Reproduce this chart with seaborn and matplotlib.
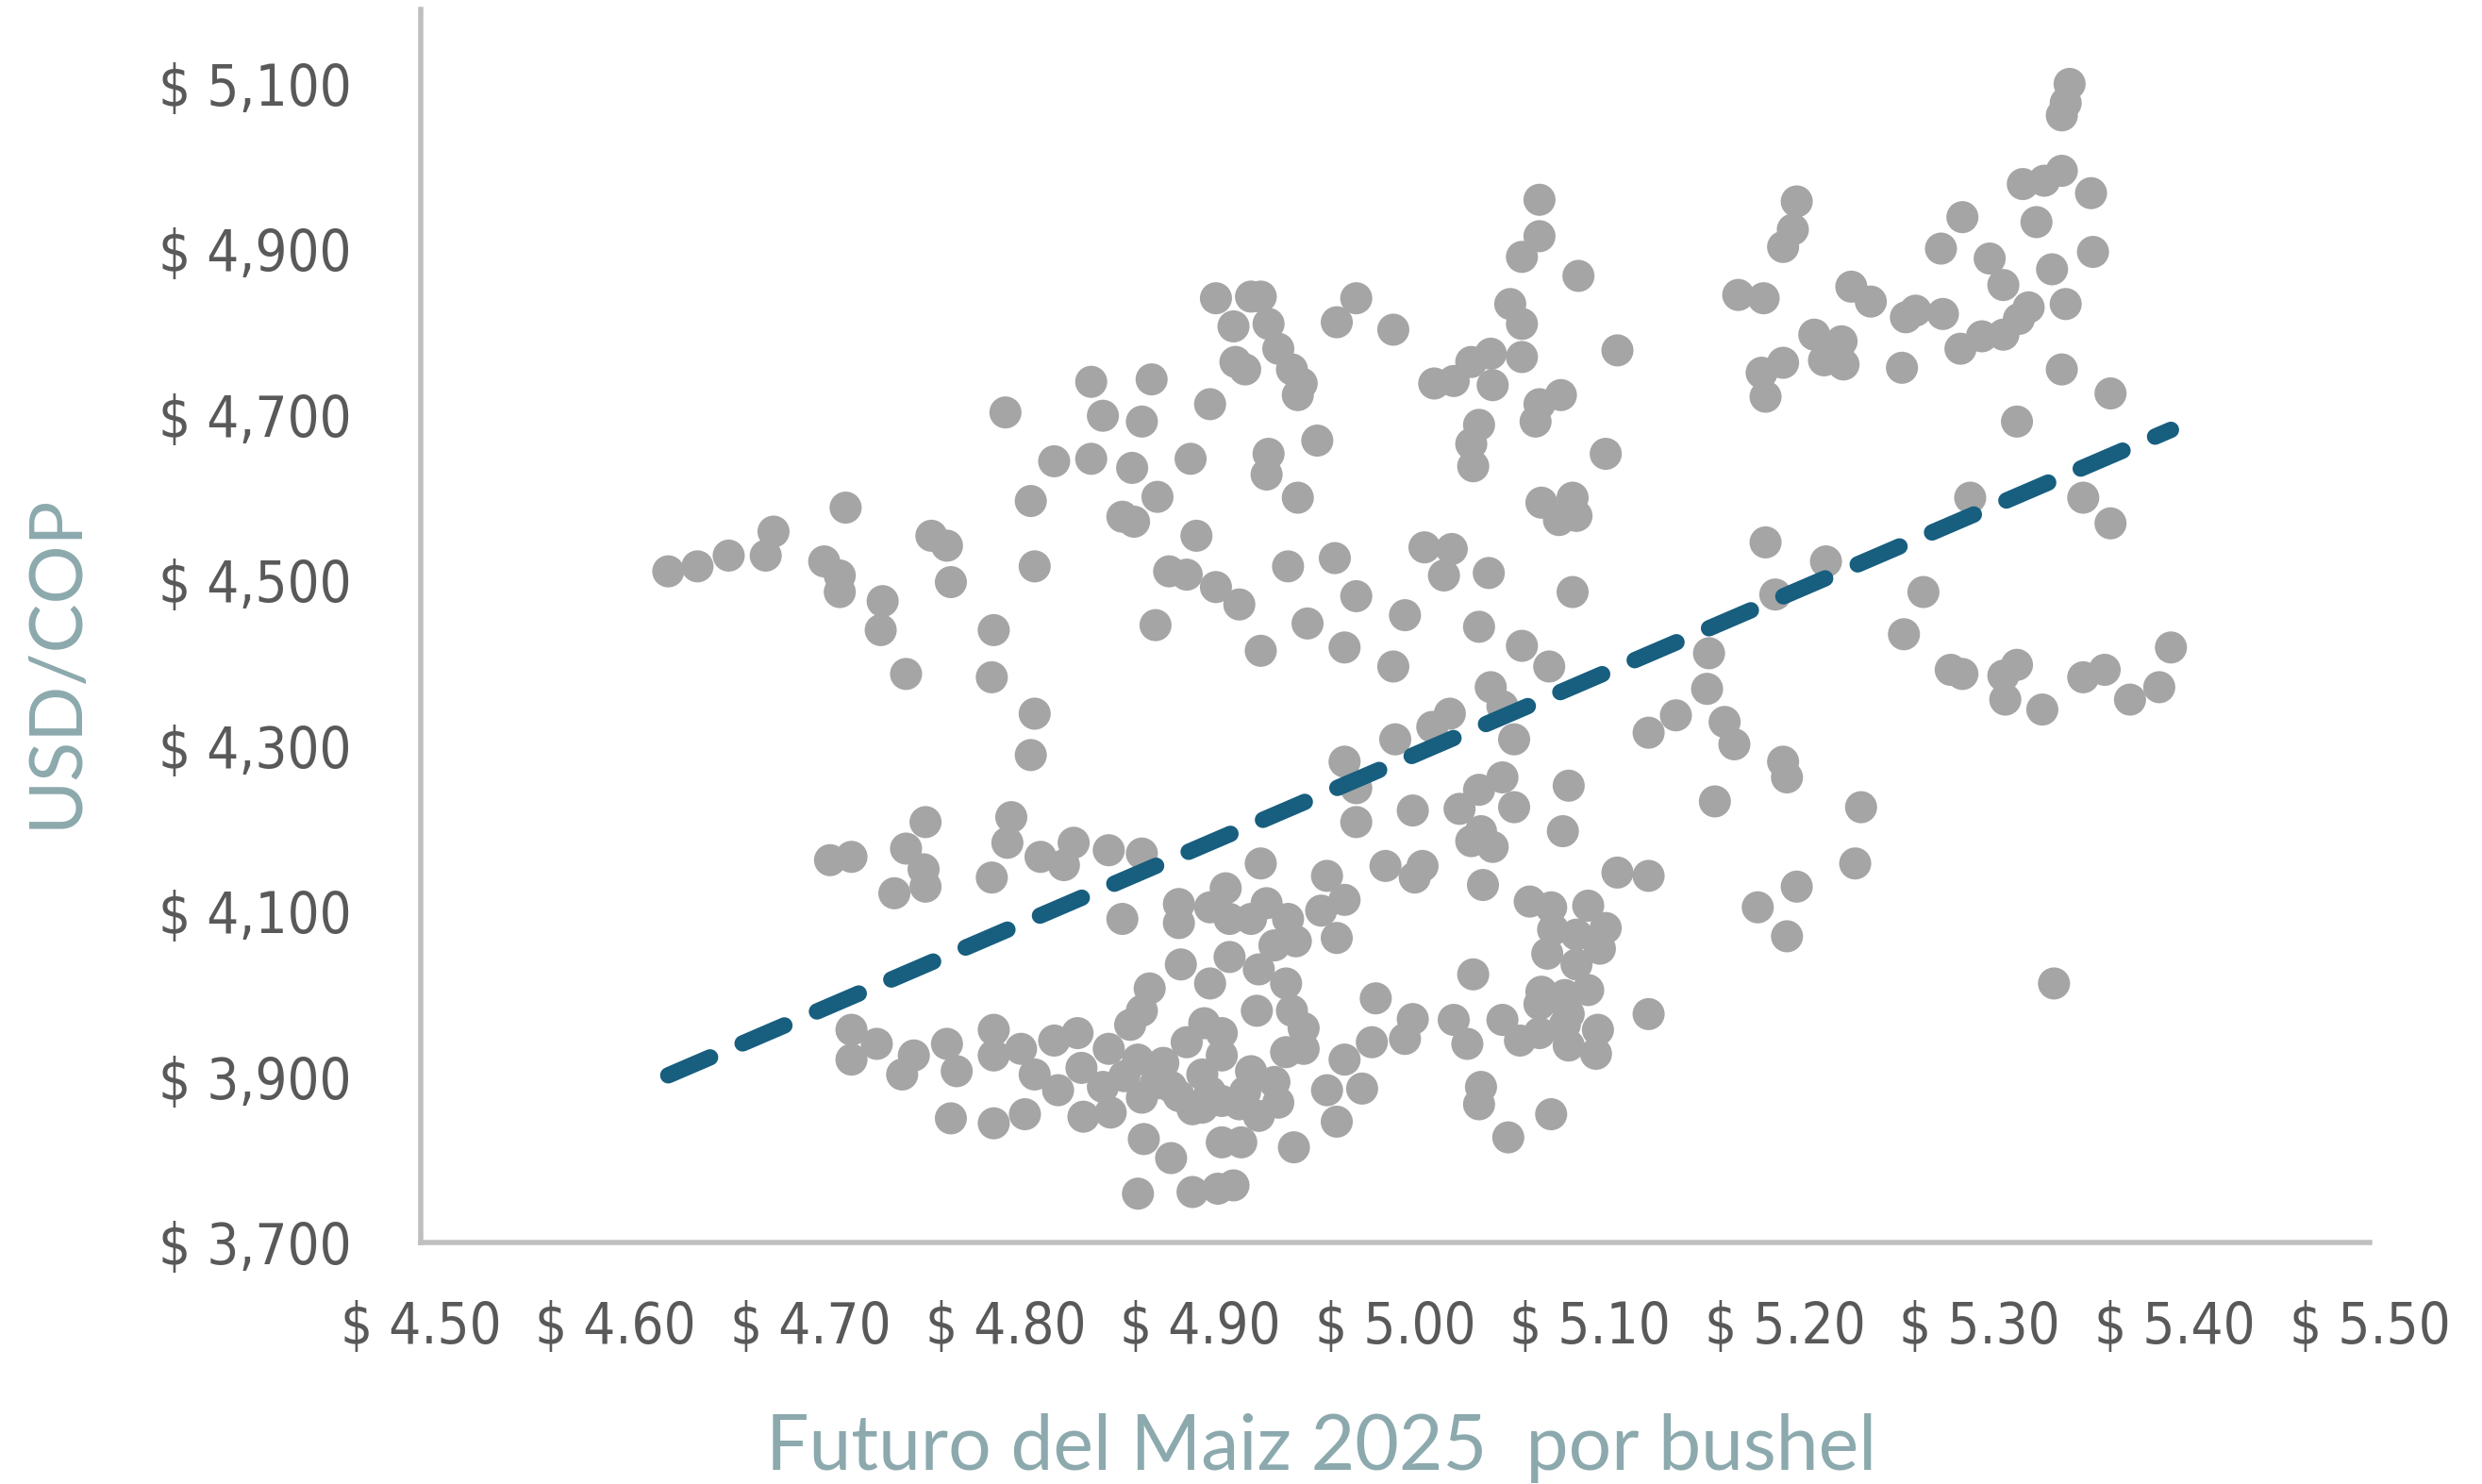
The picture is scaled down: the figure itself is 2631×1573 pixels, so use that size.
import os
import matplotlib
matplotlib.use("Agg")
import matplotlib.pyplot as plt
import matplotlib.ticker as mticker
from matplotlib import font_manager as fm
import seaborn as sns
import pandas as pd

# Corn future price (USD per bushel) vs USD/COP
corn_price = [
    4.627, 4.642, 4.658, 4.677, 4.681, 4.718, 4.707, 4.715, 4.715, 4.737,
    4.736, 4.762, 4.770, 4.772, 4.800, 4.813, 4.815, 4.794, 4.825, 4.844,
    4.850, 4.844, 4.865, 4.870, 4.875, 4.878, 4.866, 4.860, 4.898, 4.884,
    4.893, 4.908, 4.877, 4.905, 4.895, 4.908, 4.917, 4.918, 5.074, 5.074,
    5.065, 5.094, 5.206, 5.204, 5.199, 5.176, 5.189, 5.215, 5.220, 5.199,
    5.188, 5.190, 4.926, 4.931, 4.935, 4.940, 4.923, 4.947, 4.952, 4.950,
    4.970, 4.980, 4.999, 5.020, 5.030, 5.039, 5.049, 5.050, 5.059, 5.065,
    5.065, 5.114, 5.085, 5.074, 5.072, 5.043, 5.039, 5.040, 5.108, 4.935,
    4.934, 4.960, 4.950, 5.075, 5.091, 5.093, 5.084, 5.015, 5.029, 5.025,
    5.048, 4.945, 4.969, 4.980, 5.005, 4.955, 5.043, 5.091, 5.190, 5.195,
    4.920, 5.221, 5.346, 5.344, 5.342, 5.322, 5.333, 5.342, 5.357, 5.291,
    5.329, 5.280, 5.305, 5.312, 5.337, 5.358, 5.234, 5.244, 5.262, 5.267,
    5.281, 5.325, 5.320, 5.344, 5.229, 5.230, 5.260, 5.290, 5.301, 5.312,
    5.342, 5.367, 5.319, 5.295, 5.353, 5.367, 5.271, 5.261, 5.285, 5.291,
    5.319, 5.312, 5.313, 5.332, 5.353, 5.364, 5.377, 5.392, 5.398, 5.239,
    5.236, 5.338, 4.931, 4.974, 4.999, 5.065, 5.079, 5.049, 5.055, 5.028,
    5.019, 5.000, 5.061, 5.160, 5.161, 5.144, 5.130, 5.169, 5.174, 5.199,
    5.201, 5.164, 4.974, 4.980, 4.980, 5.009, 5.055, 5.033, 5.043, 5.061,
    5.044, 5.050, 5.039, 5.089, 5.086, 4.931, 4.965, 4.995, 5.014, 5.010,
    5.045, 5.114, 5.130, 5.206, 5.186, 5.201, 5.069, 5.080, 5.099, 5.108,
    5.081, 5.093, 5.078, 5.105, 5.093, 5.075, 5.099, 5.087, 5.074, 5.089,
    5.104, 5.087, 5.074, 5.089, 5.103, 5.064, 5.055, 5.130, 5.040, 5.030,
    5.037, 5.009, 5.005, 4.990, 4.988, 4.974, 4.965, 4.983, 4.970, 4.948,
    4.921, 5.044, 5.043, 5.058, 5.080, 4.934, 4.926, 4.945, 4.962, 4.974,
    4.970, 4.938, 4.949, 4.930, 4.944, 4.929, 4.947, 4.953, 4.953, 4.944,
    4.926, 4.938, 4.940, 4.920, 4.749, 4.793, 4.815, 4.813, 4.759, 4.803,
    4.710, 4.721, 4.749, 4.758, 4.759, 4.743, 4.801, 4.793, 4.818, 4.835,
    4.830, 4.853, 4.870, 4.860, 4.889, 4.889, 4.905, 4.913, 4.915, 4.890,
    4.905, 4.915, 4.874, 4.870, 4.902, 4.911, 4.893, 4.721, 4.721, 4.734,
    4.747, 4.753, 4.770, 4.775, 4.794, 4.794, 4.808, 4.815, 4.825, 4.837,
    4.839, 4.853, 4.864, 4.868, 4.850, 4.827, 4.840, 4.854, 4.881, 4.885,
    4.901, 4.911, 4.870, 4.896, 4.911, 4.911, 4.772, 4.794, 4.810, 4.871,
    4.885, 4.868, 4.896, 4.909, 4.917, 4.861, 4.877, 4.901, 4.889, 4.905,
    4.923, 4.930,
]
usd_cop = [
    4511, 4517, 4530, 4530, 4559, 4588, 4523, 4506, 4486, 4475,
    4440, 4554, 4542, 4498, 4703, 4596, 4517, 4440, 4644, 4740,
    4699, 4647, 4636, 4692, 4743, 4601, 4571, 4577, 4554, 4511,
    4507, 4492, 4446, 4713, 4647, 4841, 4807, 4764, 4960, 4916,
    4891, 4868, 4958, 4924, 4903, 4845, 4841, 4797, 4766, 4763,
    4751, 4722, 4843, 4843, 4810, 4780, 4755, 4755, 4738, 4724,
    4812, 4841, 4803, 4738, 4741, 4764, 4774, 4736, 4834, 4810,
    4770, 4778, 4724, 4713, 4692, 4688, 4665, 4638, 4653, 4653,
    4628, 4669, 4600, 4594, 4600, 4578, 4573, 4540, 4538, 4506,
    4509, 4517, 4527, 4481, 4458, 4448, 4444, 4486, 4546, 4483,
    4471, 4523, 5100, 5077, 5062, 4979, 4983, 4995, 4968, 4939,
    4933, 4901, 4889, 4857, 4876, 4897, 4855, 4837, 4818, 4826,
    4822, 4830, 4816, 4834, 4789, 4761, 4757, 4780, 4795, 4797,
    4755, 4726, 4692, 4600, 4600, 4569, 4486, 4435, 4392, 4387,
    4398, 4385, 4356, 4344, 4383, 4392, 4356, 4371, 4419, 4226,
    4158, 4013, 4415, 4419, 4396, 4421, 4396, 4371, 4348, 4339,
    4323, 4308, 4308, 4369, 4412, 4337, 4316, 4329, 4302, 4281,
    4262, 4233, 4281, 4249, 4208, 4222, 4262, 4224, 4247, 4226,
    4197, 4178, 4185, 4252, 4197, 4158, 4143, 4155, 4155, 4141,
    4132, 4147, 4143, 4130, 4105, 4070, 4112, 4105, 4107, 4080,
    4078, 4072, 4049, 4055, 4036, 4003, 4005, 3999, 3988, 3976,
    3957, 3963, 3953, 3938, 3928, 3944, 3969, 3976, 4024, 3969,
    3940, 3970, 3946, 3995, 3942, 3921, 3884, 3886, 3846, 3815,
    3821, 3888, 3867, 3827, 3855, 4110, 4091, 4091, 4101, 4114,
    4068, 4059, 4064, 4030, 4013, 3980, 3980, 3959, 3934, 3930,
    3907, 3894, 3869, 3867, 4387, 4383, 4339, 4289, 4208, 4214,
    4162, 4166, 4176, 4151, 4130, 4122, 4183, 4141, 4166, 4183,
    4156, 4174, 4170, 4091, 4109, 4086, 4105, 4128, 4091, 4036,
    4013, 4045, 4007, 3980, 3965, 3953, 3942, 3957, 3921, 3940,
    3903, 3926, 3940, 3907, 3957, 3926, 3934, 3903, 3944, 3953,
    3911, 3934, 3963, 3921, 3888, 3884, 3852, 3857, 3917, 3888,
    3903, 3926, 3875, 3861, 3871, 3821, 3850, 3844, 3855, 3825,
    3802, 3759, 3761, 3765, 3769, 3901, 3892, 3863, 3877, 3882,
    3882, 3853,
]

# linear trend line (as drawn in the chart)
trend_x = [4.627, 5.398]
trend_y = [3902, 4682]

x_ticks = [4.50, 4.60, 4.70, 4.80, 4.90, 5.00, 5.10, 5.20, 5.30, 5.40, 5.50]
y_ticks = [3700, 3900, 4100, 4300, 4500, 4700, 4900, 5100]


def pick_font(names):
    # look for a narrow font file among the installed ones
    files = {os.path.basename(f.fname).lower(): f.fname for f in fm.fontManager.ttflist}
    for n in names:
        for base, path in files.items():
            if base.startswith(n.lower()):
                return path
    return None


tick_font_file = pick_font(["DejaVuSansCondensed.", "LiberationSansNarrow-Regular"])

df = pd.DataFrame({"maiz": corn_price, "cop": usd_cop})

sns.set_theme(style="white")
plt.rcParams["font.family"] = ["Liberation Sans", "DejaVu Sans"]

W, H = 2631, 1573
fig = plt.figure(figsize=(W / 100, H / 100), dpi=100)
ax = fig.add_axes([446 / W, 256 / H, (2512 - 446) / W, (1317 - 10) / H])

sns.scatterplot(data=df, x="maiz", y="cop", ax=ax, s=600, color="#A5A5A5",
                edgecolor="none", linewidth=0, zorder=2)
sns.lineplot(x=trend_x, y=trend_y, ax=ax, color="#175E7F", linewidth=12.5,
             dashes=False, zorder=3)
line = ax.lines[-1]
line.set_dashes((2.78, 2.16))
line.set_dash_capstyle("round")

ax.set_xlim(4.50, 5.50)
ax.set_ylim(3700, 5190)
ax.set_xticks(x_ticks)
ax.set_yticks(y_ticks)
ax.xaxis.set_major_formatter(mticker.FuncFormatter(lambda v, p: f"$ {v:.2f}"))
ax.yaxis.set_major_formatter(mticker.FuncFormatter(lambda v, p: f"$ {v:,.0f}"))
ax.tick_params(axis="both", length=0, labelcolor="#595959")
ax.tick_params(axis="y", pad=53)
ax.tick_params(axis="x", pad=44)
if tick_font_file:
    fp = fm.FontProperties(fname=tick_font_file, size=43)
else:
    fp = fm.FontProperties(family="DejaVu Sans", stretch="condensed", size=43)
for lab in ax.get_xticklabels() + ax.get_yticklabels():
    lab.set_fontproperties(fp)
ax.set_xlabel("")
ax.set_ylabel("")

for side in ["top", "right"]:
    ax.spines[side].set_visible(False)
for side in ["left", "bottom"]:
    ax.spines[side].set_color("#BFBFBF")
    ax.spines[side].set_linewidth(4)

fig.text(1401 / W, 1 - 1535 / H, "Futuro del Maiz 2025  por bushel", ha="center",
         va="center", fontsize=58, color="#8CA9AD", family=["Lato", "DejaVu Sans"])
fig.text(60 / W, 1 - 701 / H, "USD/COP", ha="center", va="center", rotation=90,
         fontsize=56, color="#8CA9AD", family=["Lato", "DejaVu Sans"])

fig.savefig("out.png", dpi=100)
